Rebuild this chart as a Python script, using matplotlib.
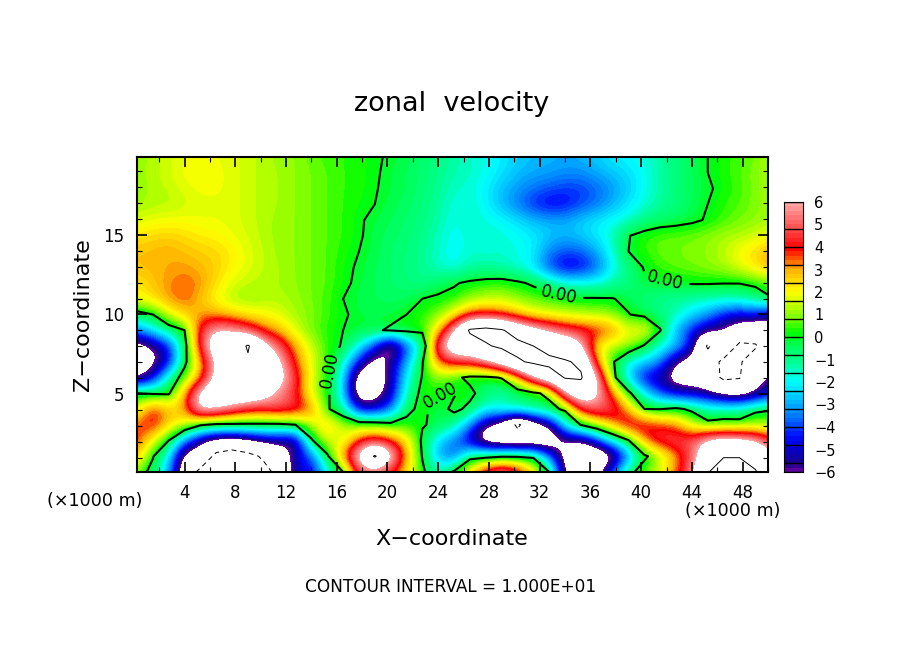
import matplotlib

matplotlib.use("Agg")
import matplotlib.pyplot as plt
import numpy as np
from matplotlib.colors import BoundaryNorm, ListedColormap

W, H = 904, 654

# grid: x every 1.25 km, z every 0.99 km. rows listed top (z=19.9) to bottom (z=0.1)
x_km = 0.25 + 1.25 * np.arange(41)
z_km = 0.1 + 0.99 * np.arange(21)

u_rows = [
    [1.0,1.3,1.5,1.8,1.9,1.8,1.7,1.5,1.3,1.1,1.0,.7,.5,.4,.3,.1,-.1,-.3,-.6,-.9,-1.3,-1.6,-1.8,-2.2,-2.6,-2.8,-2.9,-3,-2.9,-2.6,-2.2,-2,-1.7,-1.3,-.8,-.4,0,.3,.5,.8,1.3],
    [1.1,1.3,1.6,1.9,2,1.9,1.7,1.5,1.3,1.2,1,.8,.6,.4,.3,.1,-.2,-.4,-.7,-1,-1.4,-1.5,-1.9,-2.3,-2.8,-3,-3.1,-3.3,-3.3,-3,-2.7,-2.4,-1.9,-1.3,-.8,-.4,0,.3,.6,.9,1.4],
    [1.0,1.3,1.4,1.7,1.9,1.9,1.7,1.5,1.3,1.2,1,.8,.6,.4,.3,.05,-.2,-.4,-.7,-1.1,-1.6,-1.7,-2.1,-2.8,-3.2,-3.6,-3.9,-4.1,-4.1,-3.7,-3.2,-2.6,-1.9,-1.3,-.8,-.4,-.1,.2,.5,.9,1.3],
    [1.1,1.3,1.3,1.5,1.7,1.7,1.7,1.5,1.3,1.2,1,.8,.6,.4,.2,0,-.3,-.5,-.8,-1.2,-1.8,-1.5,-2.1,-2.8,-3.5,-4.3,-4.7,-4.6,-4,-3.6,-2.9,-2.3,-1.7,-1.2,-.8,-.4,0,.4,.6,.9,1.2],
    [1.6,1.8,1.9,1.9,1.8,1.8,1.7,1.5,1.3,1.1,1,.8,.6,.4,.1,-.2,-.4,-.6,-.9,-1.3,-1.9,-1.5,-1.8,-2,-2.4,-2.8,-3,-3,-2.6,-2.2,-1.9,-1.6,-.9,-.6,-.4,-.2,.1,.5,.8,1,1.2],
    [2.3,2.5,2.6,2.4,2.2,2.1,1.8,1.6,1.3,1.1,1,.8,.6,.4,.1,-.3,-.5,-.7,-1,-1.5,-2,-1.7,-1.5,-1.7,-1.9,-2.2,-2.6,-2.9,-2.6,-2.2,-1.6,-.05,.4,.7,.7,.8,1,1.2,1.3,1.5,2],
    [2.8,2.9,3,2.8,2.6,2.5,2.2,1.7,1.4,1.1,1,.8,.6,.3,0,-.3,-.6,-.8,-1.1,-1.6,-2.1,-1.6,-1.8,-1.6,-1.8,-2.1,-3.5,-3.9,-3.8,-3,-1.7,0,.4,.7,.8,.9,1,1.4,2,2.5,3],
    [2.8,2.9,3,3.1,2.9,2.6,2.1,1.7,1.4,1.2,1,.8,.6,.2,-.1,-.4,-.6,-.8,-1.1,-1.6,-1.9,-1.3,-1.2,-1.4,-1.7,-2.3,-4,-5,-4.8,-3.8,-2.1,-.9,.1,.5,.7,.8,1,1.2,1.7,2.3,3],
    [2.3,2.7,3.2,3.5,3.2,2.4,1.7,1.4,1.3,1.2,1,.8,.6,.2,-.2,-.4,-.6,-.8,-1,-.5,-.1,.2,.4,.5,.2,-.2,-.8,-1.7,-1.7,-1.8,-1.2,-.9,-.2,-.1,-.05,.1,.1,.05,.05,.3,.7],
    [1.9,2.4,3.2,3.6,2.8,1.9,1.2,1,1.2,1.3,1.1,.8,.5,0,-.3,-.4,-.5,-.4,0,.2,.3,1,1.3,1.4,1,.7,.5,.3,.1,.1,.05,-.3,-.8,-1.1,-1.2,-1.3,-1.4,-1.4,-1.3,-.9,-.1],
    [-.5,0,1.6,2.6,3,3,2.6,2.2,2,1.7,1.2,.9,.5,.1,-.2,-.3,-.2,0,.4,.8,2,3.8,4,3.6,2.8,2,1.7,1.5,1.3,1.2,1,.05,-.4,-.9,-1.3,-2.4,-3.2,-4.5,-5,-4.5,-5.5],
    [-3.5,-2.2,-.8,0,4.5,6.3,6,5,3.5,2.8,1.6,.8,.3,0,-.1,-.1,.1,.3,.3,2.5,6.3,10.4,11,10.3,8.5,7,6,5,4.5,4.2,3.5,1.7,2.6,.1,-3,-4.5,-5.5,-6,-7,-8,-7],
    [-7,-6,-4.5,-.6,4.5,8,8,10.3,7,5,3,1.5,.4,-.1,-2,-4.2,-7.5,-4,-1.5,5.5,8,8.5,9.7,10.5,11,10,8.5,8,6.5,2,1.3,1.3,-.2,-1.8,-2.5,-4.5,-10.5,-7,-10.8,-10.3,-8],
    [-8,-6.5,-5,-.4,2.8,6.5,8,9.6,8,6.5,3.5,1.8,.6,-1.5,-4.5,-7,-5.5,-3,-.1,3.5,4.5,4.5,5.8,7.5,9.6,10.5,11,10.3,9.5,3,.2,-2,-2.5,-3.3,-6.3,-7,-8,-10.8,-10.3,-8.5,-8],
    [-6.5,-5,-1.2,.7,3,7,8,9,8,7,4.5,1.8,.2,-2.2,-7.5,-7.5,-5.5,-2,.1,1,.3,-.3,-.3,.1,2.5,6,8,10.2,10.3,6.5,.6,-2.5,-5,-5.5,-7,-7,-8,-10.6,-10.2,-6.5,-5.5],
    [0,-.2,-.2,3,7,8,8,8,7,5.5,4.3,1.5,.4,-2.5,-7.5,-7,-5.2,-1.5,.5,.1,-.1,.3,-.6,-1.5,-.8,-.3,.4,6,8,6.5,3.5,.4,-2,-4,-5,-5.2,-5.5,-6.5,-7,-6.3,-4.8],
    [1.5,4.2,2.7,3,7,6.5,5.5,4.5,4.5,5,4.6,3.5,.2,-1.2,-5,-5,-3.8,-.3,.3,-.5,.3,-.3,-2,-1.5,-1,-.8,-.5,.3,4.5,5.2,4.8,3,0,-.05,.3,-.3,-1.4,-1.4,-1.3,-.3,-.1],
    [3.5,4.3,2.5,1.8,.2,-.3,-.3,-.3,-.3,-.3,0,1.4,2.8,1.4,1,.9,.5,.3,.1,-.3,-1,-3.3,-6,-7,-10.6,-7.5,-6,-2,.1,1.5,3,4.8,4.6,3.8,3.3,1.5,.5,.8,.7,1,.9],
    [4,1.8,0,-3.5,-5.8,-6.8,-7,-6.5,-5.5,-5.5,-6.2,-.2,1.8,1.4,3.8,4.7,3.8,2.5,-.3,-2.5,-3.5,-5.5,-7.5,-8,-8,-8,-8,-6,-6.5,-4.5,-2,-.1,3.2,4.8,5,5,6.8,7.3,7,6.4,4.5],
    [2.8,.1,-2,-7,-7,-11,-12,-11,-9.5,-7.5,-5,-4,-.3,3.5,7,10.3,7,3,-.1,-3,-4,-.6,-.5,-.2,-.2,-.3,-3.5,-6.8,-8,-8,-7,-3.5,-.3,1,3,4.8,8,9.9,9.9,8.5,6.5],
    [.8,-.5,-3,-7.5,-11,-12,-12,-12,-11,-9,-4.6,-5,-2,0,4.5,5,3.8,2.5,.3,-1.5,.3,2.5,5,6.3,5,2.5,0,-6.5,-8,-7,-3.5,-.5,.8,1.8,3.5,5.5,9.9,11,11,10.3,7.5],
]
u_grid = np.array(u_rows[::-1])

cbar_ticks = [6, 5, 4, 3, 2, 1, 0, -1, -2, -3, -4, -5, -6]
cbar_boxes = [-6, -5.6, -4.8, -4, -3.2, -2.4, -1.6, -0.8, 0, 0.8, 1.6, 2.4, 3.2, 4, 4.8, 6]
color_vals = [-6, -5.6, -4.8, -4.4, -3.6, -2.8, -2, -1.2, -.4, .2, .8, 1.6, 2, 3, 3.9, 4.8, 6]
color_rgb = [(.45, 0, .65), (.1, 0, .55), (0, 0, .85), (0, .05, 1), (0, .45, 1), (0, .75, 1), (0, 1, 1),
             (0, 1, .6), (0, 1, .35), (0, 1, 0), (.45, 1, 0), (.85, 1, 0), (1, 1, 0), (1, .7, 0),
             (1, 0, 0), (1, .3, .3), (1, .68, .68)]

# colour table in 0.2 steps, white outside +-6
bounds = np.arange(-6, 6.01, 0.2)
mids = 0.5 * (bounds[:-1] + bounds[1:])
table = np.column_stack([np.interp(mids, color_vals, [c[j] for c in color_rgb]) for j in range(3)])
cmap = ListedColormap(table)
cmap.set_over("white")
cmap.set_under("white")
norm = BoundaryNorm(bounds, cmap.N)

plt.rcParams["font.family"] = "DejaVu Sans"
fig = plt.figure(figsize=(W / 100, H / 100), dpi=100)
ax = fig.add_axes([137 / W, 1 - 472 / H, (768 - 137) / W, (472 - 157) / H])

dx, dz = 1.25, 0.99
ax.imshow(u_grid, origin="lower", aspect="auto", cmap=cmap, norm=norm, interpolation="bicubic",
          interpolation_stage="data",
          extent=[x_km[0] - dx / 2, x_km[-1] + dx / 2, z_km[0] - dz / 2, z_km[-1] + dz / 2])
zero = ax.contour(x_km, z_km, u_grid, levels=[0], colors="k", linewidths=1.5)
ax.contour(x_km, z_km, u_grid, levels=[-10], colors="k", linewidths=0.7, linestyles=[(0, (5, 4))])
ax.contour(x_km, z_km, u_grid, levels=[10], colors="k", linewidths=0.7)
ax.clabel(zero, fmt="%.2f", fontsize=12,
          manual=[(15.4, 6.5), (24.0, 5.4), (33.6, 11.4), (41.9, 12.05)])
ax.set_xlim(0.25, 50)
ax.set_ylim(0.1, 19.9)

ax.set_xticks(np.arange(4, 49, 4))
ax.set_xticks(np.arange(2, 51, 2), minor=True)
ax.set_yticks([5, 10, 15])
ax.set_yticks(np.arange(1, 20), minor=True)
ax.tick_params(which="major", direction="in", top=True, right=True, length=7, width=1.2,
               labelsize=12, pad=9)
ax.tick_params(which="minor", direction="in", top=True, right=True, length=3.5, width=0.8)
for s in ax.spines.values():
    s.set_linewidth(1.5)

# colour bar
cax = fig.add_axes([784 / W, 1 - 472 / H, 19 / W, 270 / H])
cax.pcolormesh([0, 1], bounds, mids[:, None], cmap=cmap, norm=norm)
for b in cbar_boxes:
    cax.axhline(b, color="k", lw=1.0)
cax.set_xticks([])
cax.yaxis.tick_right()
cax.set_yticks(cbar_ticks)
cax.set_yticklabels([str(t).replace("-", "\u2212") for t in cbar_ticks], fontsize=10.5)
cax.tick_params(axis="y", length=0, pad=8)
cax.set_ylim(-6, 6)

fig.text(452 / W, 1 - 104 / H, "zonal  velocity", fontsize=19.5, ha="center", va="center")
fig.text(452 / W, 1 - 539 / H, "X\u2212coordinate", fontsize=16, ha="center", va="center")
fig.text(83 / W, 1 - 315 / H, "Z\u2212coordinate", fontsize=16, ha="center", va="center", rotation=90)
fig.text(451 / W, 1 - 587 / H, "CONTOUR INTERVAL = 1.000E+01", fontsize=12.2, ha="center", va="center")
fig.text(95 / W, 1 - 501 / H, "(\u00d71000 m)", fontsize=12.6, ha="center", va="center")
fig.text(733 / W, 1 - 511 / H, "(\u00d71000 m)", fontsize=12.6, ha="center", va="center")

fig.savefig("out.png", dpi=100)
